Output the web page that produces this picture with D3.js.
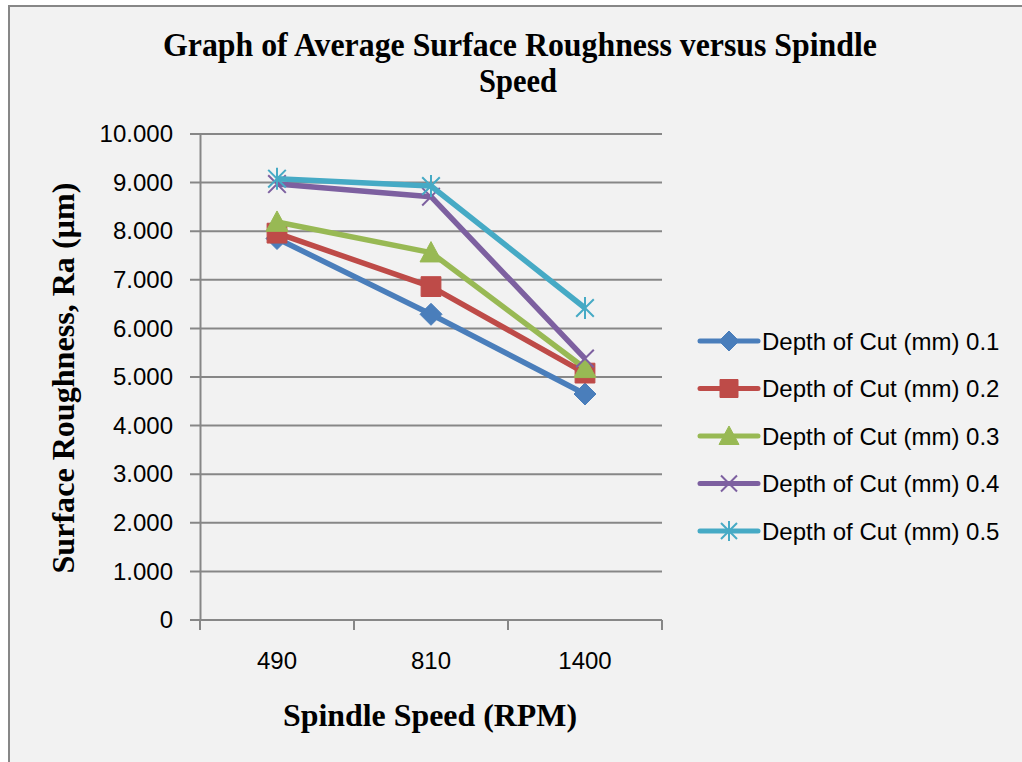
<!DOCTYPE html>
<html>
    <head>
        <meta charset="utf-8">
        <title>Surface Roughness vs Spindle Speed</title>
        <style>
            body { margin: 0; background: #fff; }
            svg { display: block; }
        </style>
    </head>
    <body>
        <svg id="chart" width="1022" height="762"></svg>

        <script src="https://d3js.org/d3.v7.min.js"></script>
        <script>
            // dados
            const speeds = ["490", "810", "1400"];
            const yTicks = [0, 1, 2, 3, 4, 5, 6, 7, 8, 9, 10];
            const seriesNames = ["Depth of Cut (mm) 0.1", "Depth of Cut (mm) 0.2",
                                 "Depth of Cut (mm) 0.3", "Depth of Cut (mm) 0.4",
                                 "Depth of Cut (mm) 0.5"];
            const depth01 = [7.85, 6.29, 4.65];
            const depth02 = [7.96, 6.86, 5.08];
            const depth03 = [8.19, 7.56, 5.18];
            const depth04 = [8.97, 8.71, 5.38];
            const depth05 = [9.08, 8.93, 6.42];
            const seriesColors = ["#4a7ebb", "#be4b48", "#98b954", "#7d60a0", "#46aac5"];
            const seriesMarkers = ["diamond", "square", "triangle", "x", "star"];

            const series = [depth01, depth02, depth03, depth04, depth05].map((v, i) => ({
                name: seriesNames[i],
                color: seriesColors[i],
                marker: seriesMarkers[i],
                values: v.map((d, j) => ({ speed: speeds[j], value: d }))
            }));

            const svg = d3.select("#chart");
            const sans = "'Liberation Sans', Arial, sans-serif";
            const serif = "'Liberation Serif', 'Times New Roman', serif";

            // fundo e moldura
            svg.append("rect")
                .attr("x", 9).attr("y", 6)
                .attr("width", 1030).attr("height", 770)
                .attr("fill", "#f2f2f2")
                .attr("stroke", "#878787")
                .attr("stroke-width", 2);

            const x = d3.scaleBand()
                .domain(speeds)
                .range([200, 662]);

            const y = d3.scaleLinear()
                .domain([0, 10])
                .range([620, 134]);

            // grade horizontal
            svg.append("g")
                .selectAll("line")
                .data(yTicks)
                .enter().append("line")
                  .attr("x1", 190)
                  .attr("x2", x.range()[1])
                  .attr("y1", d => y(d))
                  .attr("y2", d => y(d))
                  .attr("stroke", "#878787")
                  .attr("stroke-width", 2);

            // eixo y
            const yAxis = svg.append("g")
                .attr("transform", "translate(200,0)")
                .call(d3.axisLeft(y)
                    .tickValues(yTicks)
                    .tickSize(0)
                    .tickPadding(27)
                    .tickFormat(d => d === 0 ? "0" : d3.format(".3f")(d)));
            yAxis.select(".domain")
                .attr("stroke", "#878787")
                .attr("stroke-width", 2);
            yAxis.selectAll("text")
                .attr("font-family", sans)
                .attr("font-size", 24)
                .attr("fill", "#000");

            // eixo x
            const xAxis = svg.append("g")
                .attr("transform", "translate(0,620)")
                .call(d3.axisBottom(x).tickSize(0).tickPadding(32));
            xAxis.select(".domain").remove();
            xAxis.selectAll("text")
                .attr("font-family", sans)
                .attr("font-size", 24)
                .attr("fill", "#000");

            const bounds = speeds.map(s => x(s)).concat([x.range()[1]]);
            svg.append("g")
                .selectAll("line")
                .data(bounds)
                .enter().append("line")
                  .attr("x1", d => d).attr("x2", d => d)
                  .attr("y1", 620).attr("y2", 630)
                  .attr("stroke", "#878787")
                  .attr("stroke-width", 2);

            // marcadores
            function markerPath(type, s) {
                switch (type) {
                    case "diamond":
                        return `M0,${-s}L${s},0L0,${s}L${-s},0Z`;
                    case "square":
                        return `M${-s * 0.9},${-s * 0.9}h${s * 1.8}v${s * 1.8}h${-s * 1.8}Z`;
                    case "triangle":
                        return `M0,${-s}L${s},${s * 0.85}L${-s},${s * 0.85}Z`;
                    case "x":
                        return `M${-s * 0.8},${-s * 0.8}L${s * 0.8},${s * 0.8}M${-s * 0.8},${s * 0.8}L${s * 0.8},${-s * 0.8}`;
                    case "star":
                        return `M${-s * 0.8},${-s * 0.8}L${s * 0.8},${s * 0.8}M${-s * 0.8},${s * 0.8}L${s * 0.8},${-s * 0.8}M0,${-s}L0,${s}`;
                }
            }
            const isOpen = t => t === "x" || t === "star";

            const line = d3.line()
                .x(d => x(d.speed) + x.bandwidth() / 2)
                .y(d => y(d.value));

            const gSeries = svg.append("g")
                .selectAll("g")
                .data(series)
                .enter().append("g");

            gSeries.append("path")
                .attr("d", d => line(d.values))
                .attr("fill", "none")
                .attr("stroke", d => d.color)
                .attr("stroke-width", 5.5)
                .attr("stroke-linejoin", "round");

            gSeries.each(function(s) {
                d3.select(this).selectAll(".pt")
                    .data(s.values)
                    .enter().append("path")
                      .attr("class", "pt")
                      .attr("transform", d => `translate(${x(d.speed) + x.bandwidth() / 2},${y(d.value)})`)
                      .attr("d", markerPath(s.marker, 11))
                      .attr("fill", isOpen(s.marker) ? "none" : s.color)
                      .attr("stroke", s.color)
                      .attr("stroke-width", isOpen(s.marker) ? 2 : 1);
            });

            // legenda
            const legend = svg.append("g")
                .selectAll("g")
                .data(series)
                .enter().append("g")
                  .attr("transform", (d, i) => `translate(700,${341 + i * 47.5})`);

            legend.append("line")
                .attr("x1", 0).attr("x2", 58)
                .attr("stroke", d => d.color)
                .attr("stroke-width", 5)
                .attr("stroke-linecap", "round");

            legend.append("path")
                .attr("transform", "translate(29,0)")
                .attr("d", d => markerPath(d.marker, 10))
                .attr("fill", d => isOpen(d.marker) ? "none" : d.color)
                .attr("stroke", d => d.color)
                .attr("stroke-width", d => isOpen(d.marker) ? 2 : 1);

            legend.append("text")
                .attr("x", 62)
                .attr("dy", "0.36em")
                .attr("font-family", sans)
                .attr("font-size", 24)
                .attr("fill", "#000")
                .text(d => d.name);

            // títulos (fonte serifada comprimida na horizontal, como na referência)
            const title = svg.append("text")
                .attr("text-anchor", "middle")
                .attr("font-family", serif)
                .attr("font-weight", "bold")
                .attr("font-size", 34)
                .attr("fill", "#000");
            title.append("tspan").attr("x", 520).attr("y", 56)
                .attr("textLength", 714)
                .attr("lengthAdjust", "spacingAndGlyphs")
                .text("Graph of Average Surface Roughness versus Spindle");
            title.append("tspan").attr("x", 518).attr("y", 92)
                .attr("textLength", 78)
                .attr("lengthAdjust", "spacingAndGlyphs")
                .text("Speed");

            svg.append("text")
                .attr("x", 430).attr("y", 726)
                .attr("text-anchor", "middle")
                .attr("font-family", serif)
                .attr("font-weight", "bold")
                .attr("font-size", 32)
                .attr("textLength", 294)
                .attr("lengthAdjust", "spacingAndGlyphs")
                .attr("fill", "#000")
                .text("Spindle Speed (RPM)");

            svg.append("text")
                .attr("transform", "translate(74,378) rotate(-90)")
                .attr("text-anchor", "middle")
                .attr("font-family", serif)
                .attr("font-weight", "bold")
                .attr("font-size", 32)
                .attr("textLength", 391)
                .attr("lengthAdjust", "spacingAndGlyphs")
                .attr("fill", "#000")
                .text("Surface Roughness, Ra (µm)");
        </script>
    </body>
</html>
